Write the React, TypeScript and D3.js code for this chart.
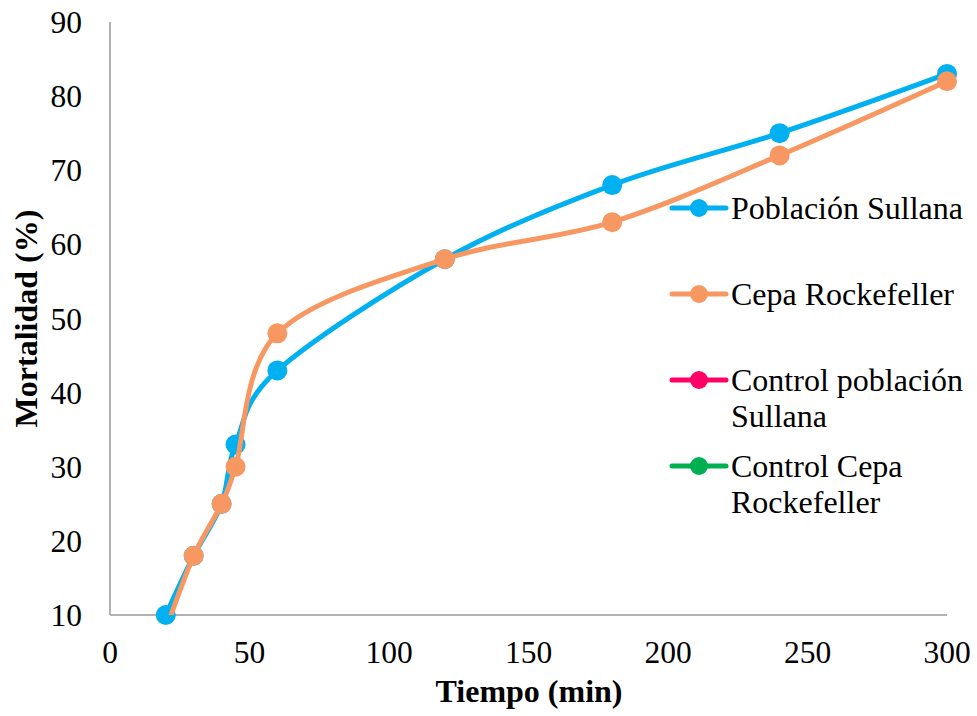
import React from "react";
import * as d3 from "d3";

const tiempos = [20, 30, 40, 45, 60, 120, 180, 240, 300];
const poblacionSullana = [10, 18, 25, 33, 43, 58, 68, 75, 83];
const cepaRockefeller = [8, 18, 25, 30, 48, 58, 63, 72, 82];
const xTicks = [0, 50, 100, 150, 200, 250, 300];
const yTicks = [10, 20, 30, 40, 50, 60, 70, 80, 90];
const legendItems = [
  { lines: ["Población Sullana"], color: "#00B0F0" },
  { lines: ["Cepa Rockefeller"], color: "#F79862" },
  { lines: ["Control población", "Sullana"], color: "#FF0066" },
  { lines: ["Control Cepa", "Rockefeller"], color: "#00B050" },
];

const W = 977;
const H = 716;
const left = 110;
const right = 947;
const top = 22;
const bottom = 615;

export default function App() {
  const x = d3.scaleLinear().domain([0, 300]).range([left, right]);
  const y = d3.scaleLinear().domain([10, 90]).range([bottom, top]);
  const line = d3
    .line<[number, number]>()
    .x((d) => x(d[0]))
    .y((d) => y(d[1]))
    .curve(d3.curveCardinal.tension(0));

  const series = [
    { vals: poblacionSullana, color: legendItems[0].color },
    { vals: cepaRockefeller, color: legendItems[1].color },
  ];
  const font = "Liberation Serif";
  const legendY = [208, 294, 380, 466];

  return (
    <svg width={W} height={H} style={{ position: "absolute", left: 0, top: 0, fontFamily: font }}>
      <defs>
        <clipPath id="plot">
          <rect x={left} y={top - 15} width={right - left + 20} height={bottom - top + 15} />
        </clipPath>
      </defs>
      <rect width={W} height={H} fill="#fff" />
      <line x1={left} x2={left} y1={top} y2={bottom} stroke="#999" strokeWidth={1.5} />
      <line x1={left} x2={right} y1={bottom} y2={bottom} stroke="#999" strokeWidth={1.5} />
      {yTicks.map((t) => (
        <text key={t} x={left - 28} y={y(t)} dy="0.35em" textAnchor="end" fontSize={31.5} style={{ fontFamily: font }}>
          {t}
        </text>
      ))}
      {xTicks.map((t) => (
        <text key={t} x={x(t)} y={bottom + 48} textAnchor="middle" fontSize={31.5} style={{ fontFamily: font }}>
          {t}
        </text>
      ))}
      <text x={529} y={702} textAnchor="middle" fontSize={32} fontWeight="bold" style={{ fontFamily: font }}>
        Tiempo (min)
      </text>
      <text
        transform={`translate(37, ${(top + bottom) / 2}) rotate(-90)`}
        textAnchor="middle"
        fontSize={32}
        fontWeight="bold"
        style={{ fontFamily: font }}
      >
        Mortalidad (%)
      </text>
      {series.map((s, i) => {
        const pts = tiempos.map((t, j) => [t, s.vals[j]] as [number, number]);
        return (
          <g key={i}>
            <path d={line(pts) || ""} fill="none" stroke={s.color} strokeWidth={5} clipPath="url(#plot)" />
            {pts
              .filter((p) => p[1] >= 10)
              .map((p, j) => (
                <circle key={j} cx={x(p[0])} cy={y(p[1])} r={10} fill={s.color} />
              ))}
          </g>
        );
      })}
      {legendItems.map((it, i) => (
        <g key={i}>
          <line x1={672} x2={726} y1={legendY[i]} y2={legendY[i]} stroke={it.color} strokeWidth={5} strokeLinecap="round" />
          <circle cx={699} cy={legendY[i]} r={9} fill={it.color} />
          {it.lines.map((ln, k) => (
            <text key={k} x={731} y={legendY[i] + 11 + k * 36} fontSize={32} style={{ fontFamily: font }}>
              {ln}
            </text>
          ))}
        </g>
      ))}
    </svg>
  );
}
